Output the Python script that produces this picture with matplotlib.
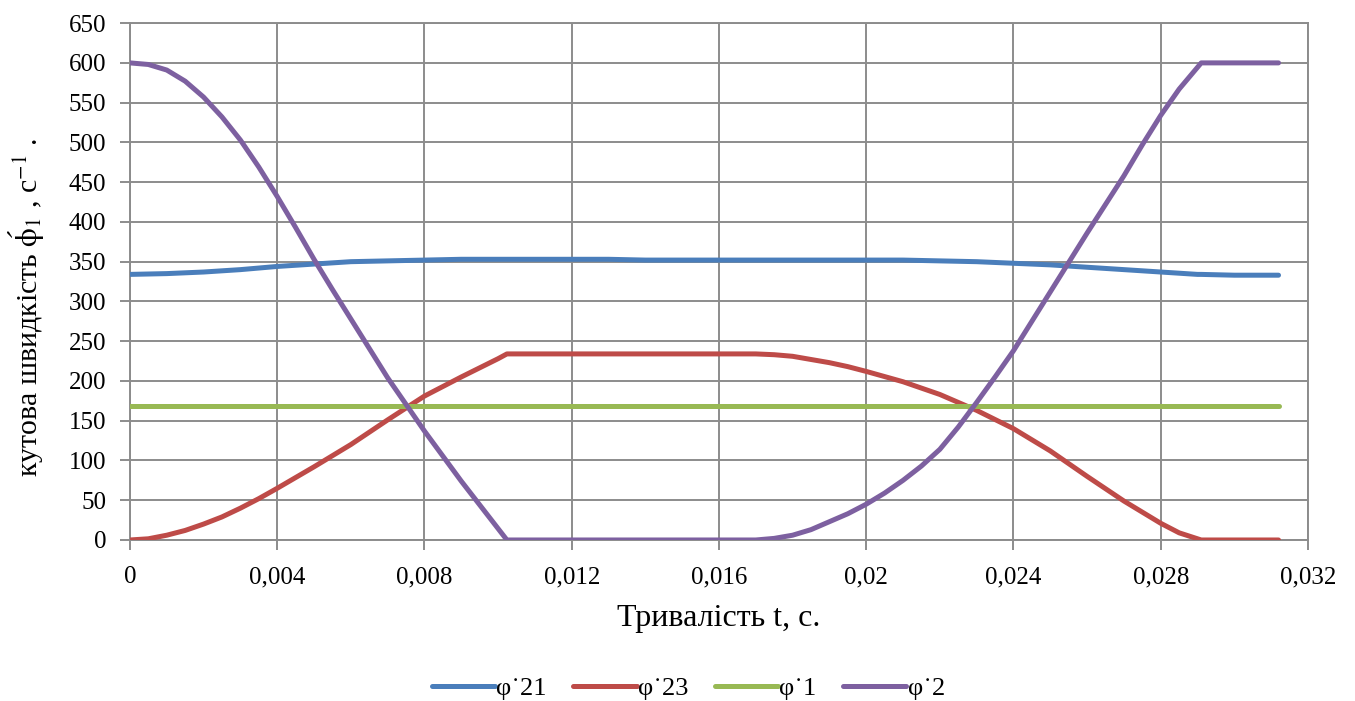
import numpy as np
import matplotlib
matplotlib.use("Agg")
import matplotlib.pyplot as plt

plt.rcParams['font.family'] = ['Liberation Serif', 'DejaVu Serif']
plt.rcParams['mathtext.fontset'] = 'stix'

# time, s (blue and green series)
t = [0, 0.001, 0.002, 0.003, 0.004, 0.005, 0.006, 0.007, 0.008, 0.009, 0.010,
     0.011, 0.012, 0.013, 0.014, 0.015, 0.016, 0.017, 0.018, 0.019, 0.020, 0.021, 0.022,
     0.023, 0.024, 0.025, 0.026, 0.027, 0.028, 0.029, 0.0291, 0.030, 0.031, 0.0312]

phi21 = [334, 335, 337, 340, 344, 347, 350, 351, 352, 353, 353,
         353, 353, 353, 352, 352, 352, 352, 352, 352, 352, 352, 351,
         350, 348, 346, 343, 340, 337, 334, 334, 333, 333, 333]

phi1 = [168] * len(t)

# red series
t23 = [0, 0.0005, 0.001, 0.0015, 0.002, 0.0025, 0.003, 0.0035, 0.004, 0.005, 0.006,
       0.007, 0.008, 0.009, 0.010, 0.01024, 0.017, 0.0175, 0.018, 0.0185, 0.019, 0.0195,
       0.020, 0.021, 0.022, 0.023, 0.024, 0.025, 0.026, 0.027, 0.028, 0.0285, 0.0291, 0.0312]
phi23 = [0, 1.5, 6, 12, 20, 29, 40, 52, 65, 92, 120,
         151, 181, 205, 228, 234, 234, 233, 231, 227, 223, 218,
         212, 199, 183, 163, 140, 112, 80, 49, 21, 9, 0, 0]

# purple series
t2 = [0, 0.0005, 0.001, 0.0015, 0.002, 0.0025, 0.003, 0.0035, 0.004, 0.0045, 0.005,
      0.0055, 0.006, 0.007, 0.008, 0.009, 0.01024, 0.017, 0.0175, 0.018, 0.0185, 0.019,
      0.0195, 0.020, 0.0205, 0.021, 0.0215, 0.022, 0.0225, 0.023, 0.0235, 0.024, 0.025,
      0.026, 0.027, 0.0275, 0.028, 0.0285, 0.0291, 0.0312]
phi2 = [600, 598, 591, 577, 557, 532, 503, 469, 432, 393, 353,
        315, 278, 204, 137, 74, 0, 0, 2, 6, 13, 23,
        33, 45, 59, 75, 93, 114, 142, 173, 205, 238, 312,
        386, 458, 497, 534, 567, 600, 600]

names = ["φ˙21", "φ˙23", "φ˙1", "φ˙2"]
colors = ["#4A7EBB", "#BE4B48", "#98B954", "#7D60A0"]

xticks = [0, 0.004, 0.008, 0.012, 0.016, 0.02, 0.024, 0.028, 0.032]
xticklabels = ["0", "0,004", "0,008", "0,012", "0,016", "0,02", "0,024", "0,028", "0,032"]

fig = plt.figure(figsize=(13.55, 7.01), dpi=100)
ax = fig.add_axes([0.0959, 0.2297, 0.8694, 0.7373])

for x, y, name, c in zip([t, t23, t, t2], [phi21, phi23, phi1, phi2], names, colors):
    ax.plot(x, y, color=c, lw=3.6, label=name, solid_capstyle='round',
            solid_joinstyle='round', zorder=3)

grid_c = "#8C8C8C"
ax.set_xlim(0, 0.032)
ax.set_ylim(0, 650)
ax.set_xticks(xticks)
ax.set_xticklabels(xticklabels)
ax.set_yticks(np.arange(0, 651, 50))
ax.grid(True, color=grid_c, lw=1.4)
ax.set_axisbelow(True)
for s in ax.spines.values():
    s.set_color(grid_c)
    s.set_linewidth(1.4)
ax.tick_params(axis='both', colors=grid_c, length=7, width=1.4, labelsize=18,
               labelcolor='black')
ax.tick_params(axis='y', pad=10)
ax.tick_params(axis='x', pad=12)

ax.set_xlabel("Тривалість t, с.", fontsize=23, labelpad=11)
ax.set_ylabel(r"кутова швидкість $\acute{\mathrm{\phi}}_1$ , с$^{-1}$ .", fontsize=21.5)
ax.yaxis.set_label_coords(-0.07, 0.45)

fig.legend(loc='lower center', bbox_to_anchor=(0.508, -0.033), ncol=4, frameon=False,
           fontsize=19, handlelength=2.4, columnspacing=1.0, handletextpad=0.05)

fig.savefig("out.png", dpi=100)
